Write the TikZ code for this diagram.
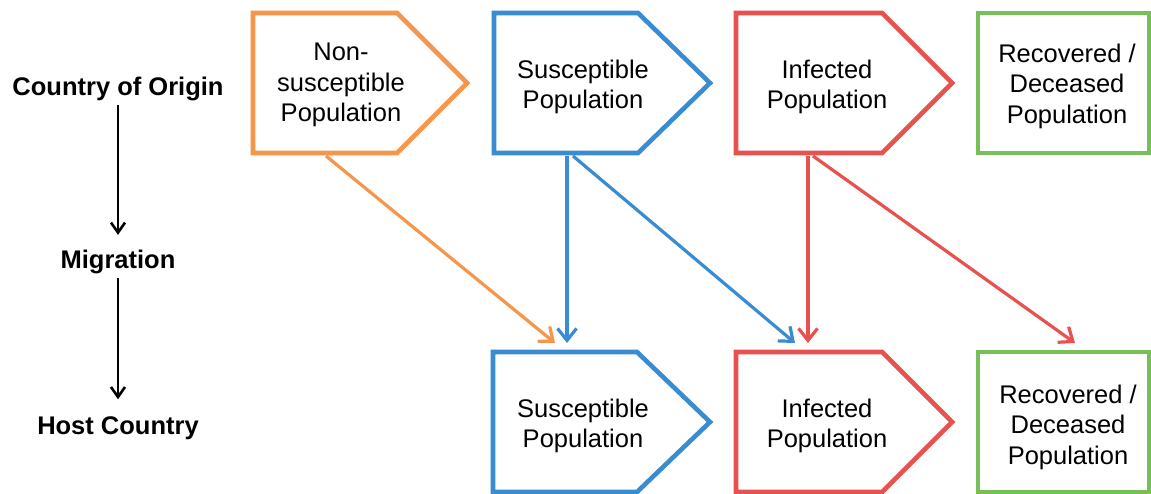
\documentclass[tikz,border=0pt]{standalone}
\usepackage{fontspec}
\setmainfont{Liberation Sans}
\usetikzlibrary{arrows.meta}
\definecolor{corange}{HTML}{F5964A}
\definecolor{cblue}{HTML}{3A8CD2}
\definecolor{cred}{HTML}{E8524E}
\definecolor{cgreen}{HTML}{76C157}
\newcommand\pentshape[5]{%
  \draw[shp,#1] (#2,#5) -- (#3,#5) -- (#4,#5+70) -- (#3,#5+140) -- (#2,#5+140) -- cycle;}
\newcommand\rectshape[4]{%
  \draw[shp,#1] (#2,#4) rectangle (#3,#4+140);}
\begin{document}
\begin{tikzpicture}[x=1pt,y=-1pt,
  shp/.style={line width=4.6pt, line join=miter},
  conn/.style={line width=3.2pt, -{Straight Barb[length=12pt,width=19pt,line width=3.2pt]}},
  blk/.style={line width=1.8pt, black, -{Straight Barb[length=10pt,width=14pt,line width=2.6pt]}},
  txt/.style={align=center, font=\fontsize{25.5}{30.5}\selectfont, inner sep=0pt},
  lab/.style={align=center, font=\fontsize{25.5}{30.5}\selectfont\bfseries, inner sep=4pt}]
\useasboundingbox (0,0) rectangle (1151,493);
\fill[white] (0,0) rectangle (1151,493);

% top row shapes
\pentshape{corange}{253}{397}{467}{13}
\pentshape{cblue}{494}{638}{710}{13}
\pentshape{cred}{736}{882}{952}{13}
\rectshape{cgreen}{978}{1149}{13}
% bottom row shapes
\pentshape{cblue}{493}{637}{710}{352}
\pentshape{cred}{736}{882}{952}{352}
\rectshape{cgreen}{978}{1149}{352}

% texts
\node[txt] (tNS) at (341,85) {Non-\\susceptible\\Population};
\node[txt] (tS1) at (583,87) {Susceptible\\Population};
\node[txt] (tI1) at (827,87) {Infected\\Population};
\node[txt] (tR1) at (1067,86) {Recovered /\\Deceased\\Population};
\node[txt] (tS2) at (583,426) {Susceptible\\Population};
\node[txt] (tI2) at (827,426) {Infected\\Population};
\node[txt] (tR2) at (1068,427) {Recovered /\\Deceased\\Population};

% left labels
\node[lab] (coo) at (118,89) {Country of Origin};
\node[lab] (mig) at (118,262) {Migration};
\node[lab] (host) at (118,428) {Host Country};
\draw[blk, shorten >=11pt] (coo.south) -- (mig.north);
\draw[blk, shorten >=13pt] (mig.south) -- (host.north);

% connector ends
\coordinate (oS) at (326,156);
\coordinate (bS1) at (567,156);
\coordinate (bS2) at (573,156);
\coordinate (rS1) at (808,156);
\coordinate (rS2) at (813,156);
\coordinate (bsA) at (555,343);
\coordinate (bsB) at (567,343);
\coordinate (biA) at (795,343);
\coordinate (biB) at (808,343);
\coordinate (bgA) at (1075,343);

\draw[conn,corange] (oS) -- (bsA);
\draw[conn,cblue] (bS1) -- (bsB);
\draw[conn,cblue] (bS2) -- (biA);
\draw[conn,cred] (rS1) -- (biB);
\draw[conn,cred] (rS2) -- (bgA);
\end{tikzpicture}
\end{document}
